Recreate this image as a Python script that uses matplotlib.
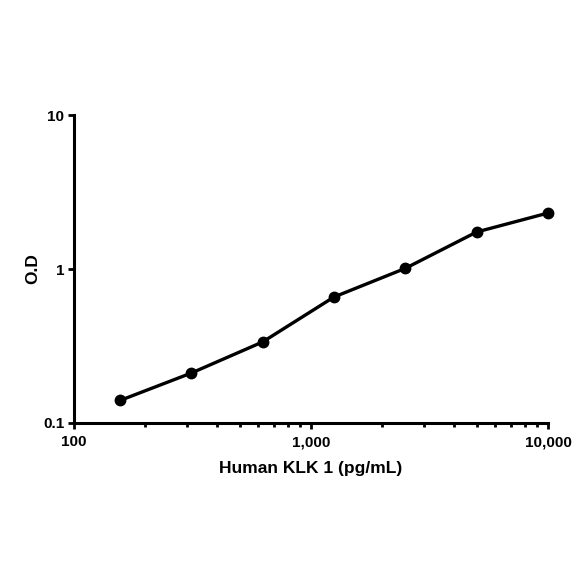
import matplotlib
matplotlib.use("Agg")
import matplotlib.pyplot as plt
from matplotlib.ticker import FixedLocator, LogLocator, NullFormatter

plt.rcParams['font.family'] = ['Liberation Sans', 'DejaVu Sans']

# standard curve values
conc = [156.25, 312.5, 625, 1250, 2500, 5000, 10000]
od = [0.140, 0.211, 0.336, 0.658, 1.01, 1.74, 2.31]
x_ticks = [100, 1000, 10000]
x_labels = ["100", "1,000", "10,000"]
y_ticks = [0.1, 1, 10]
y_labels = ["0.1", "1", "10"]

fig = plt.figure(figsize=(5.84, 5.84), dpi=100)
ax = fig.add_axes([0.1267, 0.2757, 0.8117, 0.5273])

ax.plot(conc, od, color="black", lw=2.4, marker="o", ms=7.5, clip_on=False)
ax.set_xscale("log")
ax.set_yscale("log")
ax.set_xlim(100, 10000)
ax.set_ylim(0.1, 10)

ax.xaxis.set_major_locator(FixedLocator(x_ticks))
ax.set_xticklabels(x_labels)
ax.yaxis.set_major_locator(FixedLocator(y_ticks))
ax.set_yticklabels(y_labels)
ax.xaxis.set_minor_locator(LogLocator(base=10, subs=range(2, 10)))
ax.yaxis.set_minor_locator(LogLocator(base=10, subs=range(2, 10)))
ax.xaxis.set_minor_formatter(NullFormatter())
ax.yaxis.set_minor_formatter(NullFormatter())

for s in ["top", "right"]:
    ax.spines[s].set_visible(False)
for s in ["left", "bottom"]:
    ax.spines[s].set_linewidth(2.2)

ax.tick_params(which="major", direction="out", length=4, width=2, labelsize=11)
ax.tick_params(axis="x", which="major", pad=5)
ax.tick_params(axis="y", which="major", pad=3)
ax.tick_params(axis="x", which="minor", direction="out", length=3, width=2)
ax.tick_params(axis="y", which="minor", direction="inout", length=2, width=1.5)
for lab in ax.get_xticklabels() + ax.get_yticklabels():
    lab.set_fontweight("bold")

ax.set_xlabel("Human KLK 1 (pg/mL)", fontsize=12.5, fontweight="bold", labelpad=8)
ax.set_ylabel("O.D", fontsize=12.5, fontweight="bold", labelpad=2)

fig.savefig("out.png", dpi=100)
